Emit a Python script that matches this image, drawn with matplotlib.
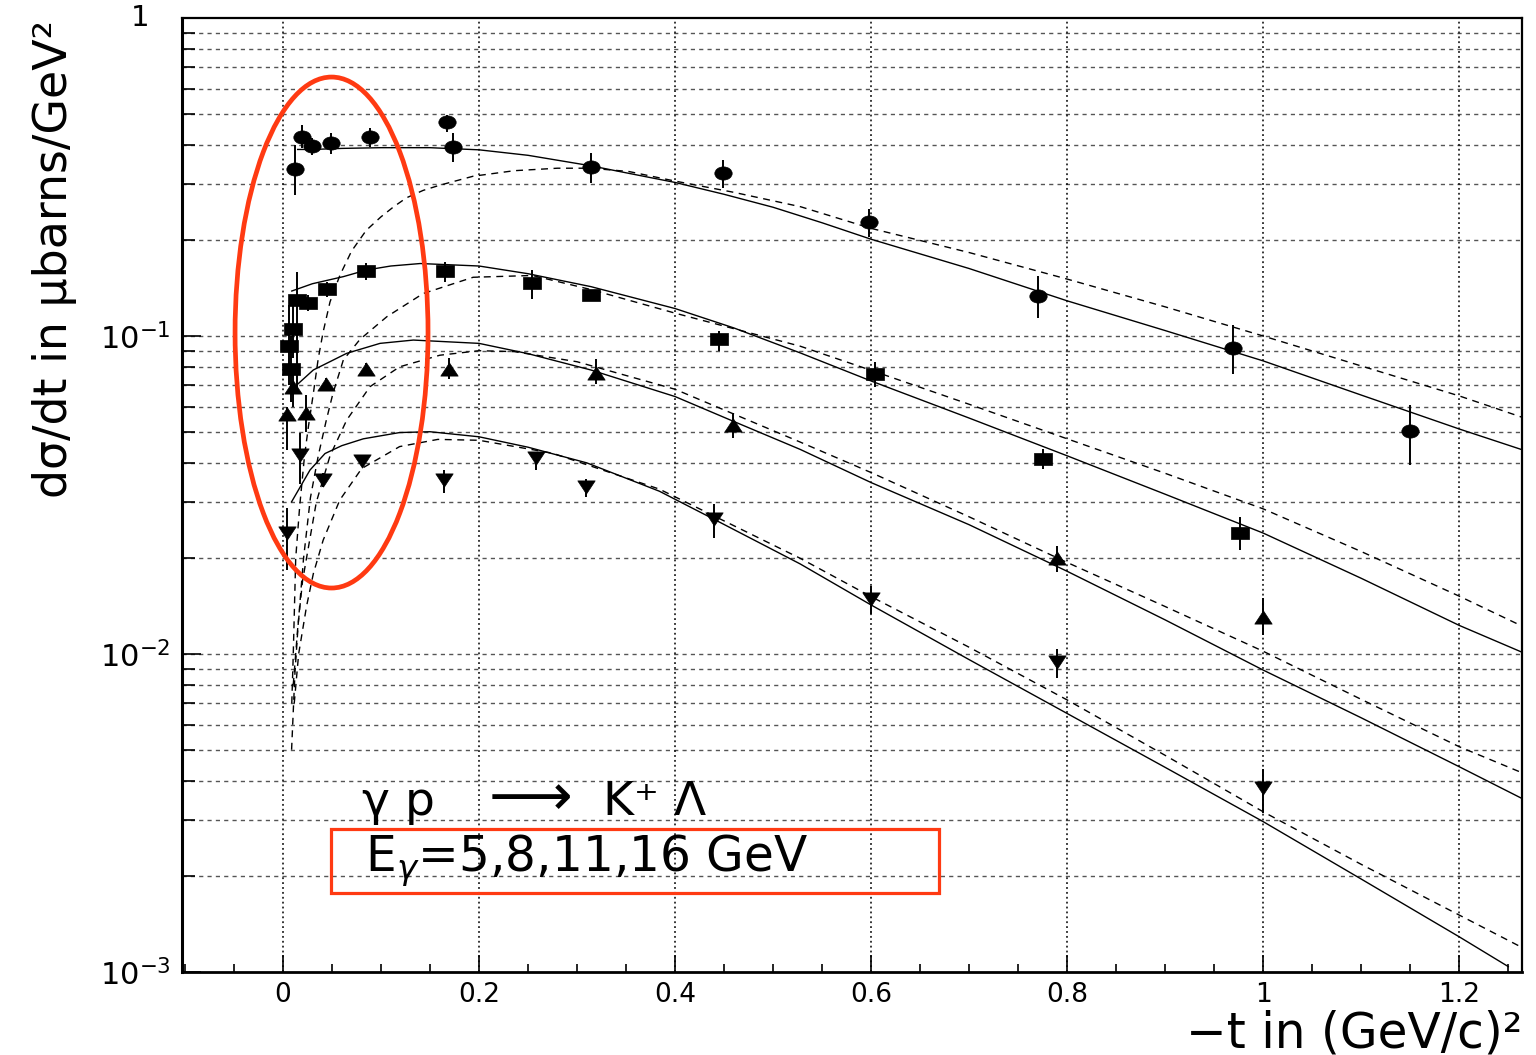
import numpy as np
import matplotlib
matplotlib.use("Agg")
import matplotlib.pyplot as plt
from matplotlib.path import Path
from matplotlib.transforms import Affine2D
from matplotlib.patches import Ellipse, Rectangle
from matplotlib.ticker import FixedLocator, FixedFormatter, NullFormatter, MultipleLocator

plt.rcParams['font.family'] = ['DejaVu Sans']
plt.rcParams['mathtext.fontset'] = 'dejavusans'

# ---------------- data ----------------
# circles
circ_t = [0.0122, 0.0197, 0.030, 0.049, 0.0888, 0.167, 0.173, 0.314, 0.449, 0.598, 0.770, 0.969, 1.150]
circ_y = [0.334, 0.423, 0.397, 0.405, 0.421, 0.470, 0.392, 0.341, 0.325, 0.228, 0.134, 0.0918, 0.0501]
circ_lo = [0.278, 0.390, 0.371, 0.373, 0.394, 0.439, 0.353, 0.303, 0.292, 0.2045, 0.1137, 0.0761, 0.0393]
circ_hi = [0.399, 0.461, 0.419, 0.434, 0.452, 0.496, 0.434, 0.376, 0.358, 0.251, 0.154, 0.108, 0.0607]

# squares
sq_t = [0.0058, 0.0078, 0.0105, 0.0146, 0.0252, 0.0446, 0.0844, 0.165, 0.2545, 0.314, 0.445, 0.604, 0.775, 0.976]
sq_y = [0.0932, 0.0789, 0.105, 0.1298, 0.1267, 0.1406, 0.160, 0.160, 0.147, 0.135, 0.0977, 0.0758, 0.0410, 0.0240]
sq_lo = [0.070, 0.062, 0.085, 0.066, 0.120, 0.133, 0.150, 0.148, 0.131, 0.130, 0.090, 0.0691, 0.0382, 0.0212]
sq_hi = [0.125, 0.100, 0.130, 0.159, 0.135, 0.148, 0.170, 0.171, 0.161, 0.140, 0.104, 0.0826, 0.0441, 0.0270]

# triangles up
tu_t = [0.0044, 0.0105, 0.0235, 0.0436, 0.0847, 0.169, 0.319, 0.459, 0.790, 1.000]
tu_y = [0.0567, 0.0693, 0.0574, 0.0705, 0.0786, 0.0789, 0.0767, 0.0525, 0.0201, 0.0131]
tu_lo = [0.0439, 0.060, 0.050, 0.067, 0.075, 0.0735, 0.0706, 0.0478, 0.0181, 0.0115]
tu_hi = [0.060, 0.080, 0.065, 0.074, 0.082, 0.0850, 0.0844, 0.0574, 0.0219, 0.0150]

# triangles down
td_t = [0.0044, 0.0173, 0.0411, 0.0803, 0.164, 0.2585, 0.309, 0.440, 0.600, 0.790, 1.000]
td_y = [0.0241, 0.0423, 0.0352, 0.0405, 0.0352, 0.0413, 0.0336, 0.0265, 0.0149, 0.00941, 0.00378]
td_lo = [0.0184, 0.0342, 0.0335, 0.0390, 0.0321, 0.0378, 0.0312, 0.0232, 0.0134, 0.0084, 0.00316]
td_hi = [0.0287, 0.0497, 0.0370, 0.0420, 0.0378, 0.0428, 0.0354, 0.0297, 0.0164, 0.0104, 0.00435]

# model curves (solid / dashed)
s1_t = [0.015, 0.03, 0.06, 0.10, 0.15, 0.20, 0.25, 0.314, 0.35, 0.40, 0.45, 0.50, 0.55, 0.60, 0.70, 0.80, 0.90,
        1.00, 1.10, 1.20, 1.265]
s1_y = [0.386, 0.386, 0.389, 0.391, 0.391, 0.385, 0.370, 0.343, 0.326, 0.304, 0.279, 0.254, 0.227, 0.2015, 0.163,
        0.129, 0.104, 0.0835, 0.0652, 0.0510, 0.0438]
d1_t = [0.009, 0.0105, 0.013, 0.017, 0.022, 0.026, 0.031, 0.036, 0.041, 0.048, 0.058, 0.070, 0.085, 0.100, 0.113,
        0.126, 0.143, 0.160, 0.194, 0.236, 0.280, 0.314, 0.353, 0.400, 0.460, 0.528, 0.600, 0.700, 0.800, 0.900,
        1.000, 1.100, 1.200, 1.265]
d1_y = [0.0070, 0.0100, 0.0200, 0.0290, 0.0420, 0.0520, 0.0660, 0.0850, 0.1030, 0.1280, 0.1550, 0.1850, 0.2150,
        0.2370, 0.2550, 0.2720, 0.2870, 0.2980, 0.3180, 0.3310, 0.3370, 0.3370, 0.3290, 0.3070, 0.2830, 0.2550,
        0.2180, 0.1830, 0.1510, 0.1235, 0.1000, 0.0805, 0.0648, 0.0554]

s2_t = [0.009, 0.03, 0.0616, 0.0854, 0.11, 0.14, 0.20, 0.25, 0.314, 0.40, 0.46, 0.5276, 0.60, 0.70, 0.80, 0.90,
        1.00, 1.10, 1.20, 1.265]
s2_y = [0.1385, 0.146, 0.1537, 0.1613, 0.166, 0.169, 0.166, 0.157, 0.143, 0.122, 0.106, 0.0885, 0.0722, 0.0552,
        0.0420, 0.0318, 0.0240, 0.0173, 0.0123, 0.0101]
d2_t = [0.0088, 0.0122, 0.0156, 0.021, 0.028, 0.036, 0.044, 0.051, 0.0616, 0.0786, 0.106, 0.119, 0.143, 0.194,
        0.2545, 0.314, 0.40, 0.5276, 0.60, 0.70, 0.80, 0.90, 1.00, 1.10, 1.20, 1.265]
d2_y = [0.0050, 0.0087, 0.0125, 0.0200, 0.0310, 0.0420, 0.0540, 0.0660, 0.0841, 0.0976, 0.1150, 0.1220, 0.1360,
        0.1530, 0.1550, 0.1400, 0.1180, 0.0929, 0.0780, 0.0610, 0.0475, 0.0370, 0.0286, 0.0210, 0.0152, 0.0122]

s3_t = [0.0122, 0.031, 0.065, 0.099, 0.133, 0.20, 0.25, 0.314, 0.40, 0.459, 0.5276, 0.60, 0.70, 0.80, 0.90, 1.00,
        1.10, 1.20, 1.265]
s3_y = [0.0693, 0.0782, 0.0882, 0.0948, 0.0971, 0.0948, 0.0880, 0.0782, 0.0645, 0.0540, 0.0440, 0.0346, 0.0255,
        0.0182, 0.0128, 0.0089, 0.0063, 0.00442, 0.0035]
d3_t = [0.0105, 0.015, 0.020, 0.024, 0.034, 0.048, 0.065, 0.0888, 0.119, 0.16, 0.20, 0.236, 0.30, 0.40, 0.5276,
        0.60, 0.70, 0.80, 0.90, 1.00, 1.10, 1.20, 1.265]
d3_y = [0.0080, 0.0120, 0.0170, 0.0200, 0.0300, 0.0420, 0.0544, 0.0693, 0.0800, 0.0870, 0.0899, 0.0893, 0.0830,
        0.0680, 0.0464, 0.0372, 0.0270, 0.0194, 0.0141, 0.0102, 0.0072, 0.00511, 0.00422]

s4_t = [0.0088, 0.0276, 0.0429, 0.060, 0.082, 0.119, 0.150, 0.20, 0.25, 0.31, 0.384, 0.44, 0.5276, 0.60, 0.70,
        0.80, 0.90, 1.00, 1.10, 1.20, 1.25]
s4_y = [0.0301, 0.0379, 0.0427, 0.0452, 0.0475, 0.0497, 0.0500, 0.0482, 0.0447, 0.0399, 0.0325, 0.0265, 0.0192,
        0.01426, 0.0096, 0.0065, 0.0044, 0.00297, 0.00196, 0.00129, 0.00104]
d4_t = [0.0115, 0.016, 0.024, 0.031, 0.041, 0.058, 0.0803, 0.119, 0.158, 0.20, 0.275, 0.384, 0.5276, 0.60, 0.70,
        0.80, 0.90, 1.00, 1.10, 1.20, 1.265]
d4_y = [0.0070, 0.0100, 0.0141, 0.0179, 0.0228, 0.0305, 0.0383, 0.0449, 0.0473, 0.0470, 0.0428, 0.0330, 0.0200,
        0.01515, 0.0105, 0.00717, 0.00480, 0.00319, 0.00218, 0.00151, 0.00119]

x_ticks = [0, 0.2, 0.4, 0.6, 0.8, 1.0, 1.2]
x_ticklabels = ["0", "0.2", "0.4", "0.6", "0.8", "1", "1.2"]
y_ticks = [1e-3, 1e-2, 1e-1, 1.0]
y_ticklabels = [r"$10^{-3}$", r"$10^{-2}$", r"$10^{-1}$", ""]

# ---------------- figure ----------------
W, H = 1536, 1055
fig = plt.figure(figsize=(W / 100, H / 100), dpi=100)
L, R, B, T = 182, 1522, 972, 18
ax = fig.add_axes([L / W, 1 - B / H, (R - L) / W, (B - T) / H])
ax.set_yscale('log')
ax.set_xlim(-0.103, 1.264)
ax.set_ylim(1e-3, 1.0)

# grid
for dec in [1e-3, 1e-2, 1e-1]:
    for k in range(1, 10):
        v = dec * k
        if v > 1e-3:
            ax.axhline(v, color='#555555', lw=1.0, ls=(0, (3, 3)), zorder=1)
for xv in x_ticks:
    ax.axvline(xv, color='black', lw=1.1, ls=(0, (1.2, 2.0)), zorder=1)

# markers
def mk(verts):
    return Path(verts + [verts[0]], [Path.MOVETO] + [Path.LINETO] * (len(verts) - 1) + [Path.CLOSEPOLY])

ell = Path.unit_circle().transformed(Affine2D().scale(1.0, 0.76))
sqr = mk([(-1, -0.72), (1, -0.72), (1, 0.72), (-1, 0.72)])
tup = mk([(-1, -0.76), (1, -0.76), (0, 0.76)])
tdn = mk([(-1, 0.76), (1, 0.76), (0, -0.76)])

# curves
for tt, yy in [(s1_t, s1_y), (s2_t, s2_y), (s3_t, s3_y), (s4_t, s4_y)]:
    ax.plot(tt, yy, color='black', lw=1.0, zorder=3)
for tt, yy in [(d1_t, d1_y), (d2_t, d2_y), (d3_t, d3_y), (d4_t, d4_y)]:
    ax.plot(tt, yy, color='black', lw=1.0, ls=(0, (5, 4)), zorder=3)

for tt, yy, lo, hi, m in [(circ_t, circ_y, circ_lo, circ_hi, ell),
                          (sq_t, sq_y, sq_lo, sq_hi, sqr),
                          (tu_t, tu_y, tu_lo, tu_hi, tup),
                          (td_t, td_y, td_lo, td_hi, tdn)]:
    ax.vlines(tt, lo, hi, color='black', lw=1.4, zorder=4)
    ax.plot(tt, yy, ls='none', marker=m, markersize=12.5, color='black', mec='black', mew=0.5, zorder=5)

# axes styling
ax.xaxis.set_major_locator(FixedLocator(x_ticks))
ax.xaxis.set_major_formatter(FixedFormatter(x_ticklabels))
ax.xaxis.set_minor_locator(MultipleLocator(0.05))
ax.yaxis.set_major_locator(FixedLocator(y_ticks))
ax.yaxis.set_major_formatter(FixedFormatter(y_ticklabels))
minors = [d * k for d in [1e-3, 1e-2, 1e-1] for k in range(2, 10)]
ax.yaxis.set_minor_locator(FixedLocator(minors))
ax.yaxis.set_minor_formatter(NullFormatter())
ax.tick_params(axis='both', which='both', direction='in', top=False, right=False, width=1.2, colors='black')
ax.tick_params(axis='x', which='major', length=12, pad=7, labelsize=19)
ax.tick_params(axis='x', which='minor', length=6)
ax.tick_params(axis='y', which='major', length=14, pad=8, labelsize=22)
ax.tick_params(axis='y', which='minor', length=9)
for s in ax.spines.values():
    s.set_linewidth(1.6)
ax.spines['left'].set_linewidth(2.2)
ax.spines['bottom'].set_linewidth(2.0)

fig.text(140 / W, 1 - 18 / H, "1", ha='center', va='center', fontsize=21)

# axis titles
fig.text(55 / W, 1 - 20 / H, "dσ/dt in μbarns/GeV²", rotation=90, ha='center', va='top', fontsize=33)
fig.text(1522 / W, 1 - 1047 / H, "−t in (GeV/c)²", ha='right', va='baseline', fontsize=35)

# annotations
red = '#ff3a12'
ax.add_patch(Ellipse((0.1116, 0.6703), 0.144, 0.5356, transform=ax.transAxes, fill=False,
                     edgecolor=red, lw=3.4, zorder=6))
ax.add_patch(Rectangle((0.1112, 0.0828), 0.4537, 0.0671, transform=ax.transAxes, fill=False,
                       edgecolor=red, lw=2.3, zorder=6))

def px(x, y):
    return ((x - L) / (R - L), 1 - (y - T) / (B - T))

ax.text(*px(362, 815), "γ p", transform=ax.transAxes, ha='left', va='baseline', fontsize=34, zorder=7)
ax.text(*px(530, 815), "⟶", transform=ax.transAxes, ha='center', va='baseline', fontsize=42,
        family=['DejaVu Sans'], zorder=7)
ax.text(*px(603, 815), "K⁺ Λ", transform=ax.transAxes, ha='left', va='baseline', fontsize=34, zorder=7)
ax.text(*px(365, 872), r"E$_\gamma$=5,8,11,16 GeV", transform=ax.transAxes, ha='left', va='baseline',
        fontsize=35, zorder=7)

fig.savefig("out.png", dpi=100)
